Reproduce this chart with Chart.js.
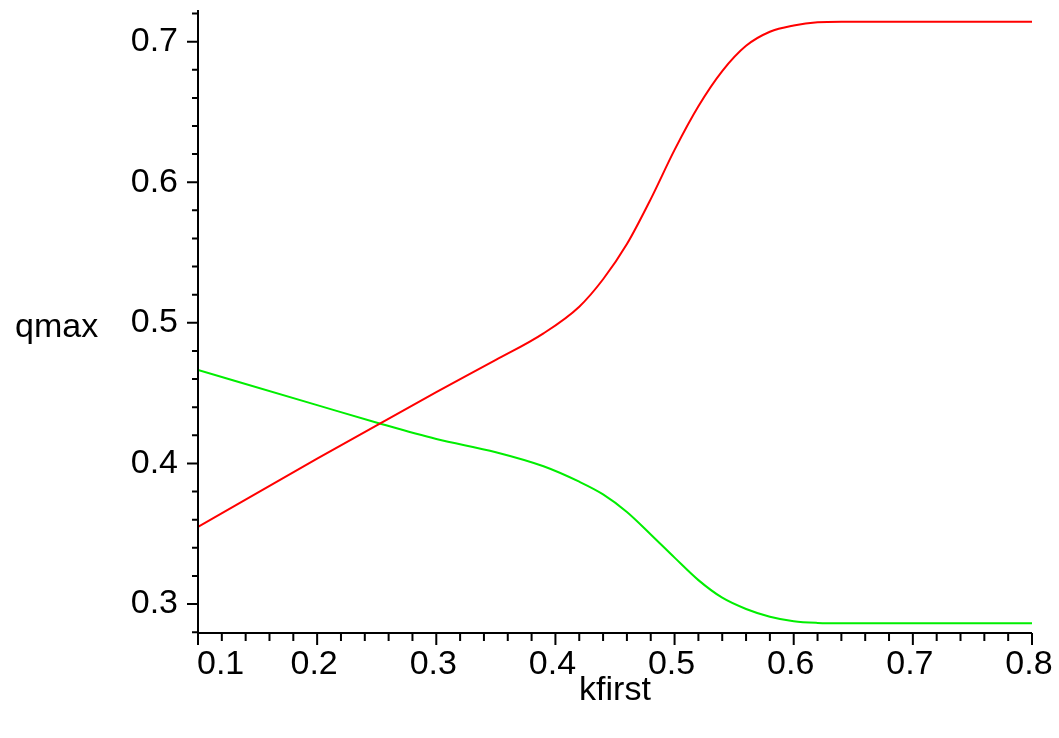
<!DOCTYPE html>
<html lang="en">
<head>
    <meta charset="UTF-8">
    <title>qmax vs kfirst</title>
    <script src="https://cdn.jsdelivr.net/npm/chart.js"></script>
    <style>
        body {
            margin: 0;
            background: #fff;
        }
        #wrap {
            width: 1059px;
            height: 738px;
            position: relative;
        }
    </style>
</head>
<body>
<div id="wrap"><canvas id="plot"></canvas></div>
<script>
    // values
    const redK = [0.1, 0.2, 0.3, 0.35, 0.39, 0.42, 0.44, 0.46, 0.48, 0.5, 0.52, 0.54,
        0.56, 0.58, 0.6, 0.62, 0.64, 0.8];
    const redQ = [0.3548, 0.4035, 0.4508, 0.4736, 0.4925, 0.5115, 0.531, 0.556, 0.588, 0.623, 0.654, 0.679,
        0.697, 0.707, 0.7115, 0.7138, 0.7142, 0.7142];

    const greenK = [0.1, 0.2, 0.251, 0.3, 0.35, 0.39, 0.42, 0.44, 0.46, 0.48, 0.5, 0.52,
        0.54, 0.56, 0.58, 0.6, 0.62, 0.64, 0.8];
    const greenQ = [0.4664, 0.4415, 0.4288, 0.4174, 0.408, 0.398, 0.387, 0.378, 0.3655, 0.3495, 0.333, 0.317,
        0.3045, 0.2965, 0.291, 0.2878, 0.2866, 0.2863, 0.2863];

    const xTickLabels = ['0.1', '0.2', '0.3', '0.4', '0.5', '0.6', '0.7', '0.8'];
    const yTickLabels = ['0.3', '0.4', '0.5', '0.6', '0.7'];

    const FONT = '34px "Liberation Sans", Arial, sans-serif';

    function toPoints(xs, ys) {
        return xs.map((x, i) => ({x: x, y: ys[i]}));
    }

    const axesPlugin = {
        id: 'mapleAxes',
        afterDraw(chart) {
            const ctx = chart.ctx;
            const area = chart.chartArea;
            const xs = chart.scales.x;
            const ys = chart.scales.y;
            ctx.save();
            ctx.strokeStyle = '#000';
            ctx.fillStyle = '#000';
            ctx.lineWidth = 2;

            // axis lines
            ctx.beginPath();
            ctx.moveTo(area.left, area.top);
            ctx.lineTo(area.left, area.bottom);
            ctx.lineTo(area.right, area.bottom);
            ctx.stroke();

            // y ticks every 0.02
            ctx.beginPath();
            for (let i = 14; i <= 36; i++) {
                const y = ys.getPixelForValue(i / 50);
                const len = i % 5 === 0 ? 11 : 6;
                ctx.moveTo(area.left - len, y);
                ctx.lineTo(area.left, y);
            }
            // x ticks every 0.02
            for (let i = 5; i <= 40; i++) {
                const x = xs.getPixelForValue(i / 50);
                const len = i % 5 === 0 ? 12 : 8;
                ctx.moveTo(x, area.bottom);
                ctx.lineTo(x, area.bottom + len);
            }
            ctx.stroke();

            ctx.font = FONT;
            ctx.textBaseline = 'middle';

            ctx.textAlign = 'right';
            yTickLabels.forEach(t => {
                ctx.fillText(t, area.left - 20, ys.getPixelForValue(parseFloat(t)));
            });

            xTickLabels.forEach((t, i) => {
                const x = xs.getPixelForValue(parseFloat(t));
                if (i === 0) {
                    ctx.textAlign = 'left';
                    ctx.fillText(t, x - 1, area.bottom + 32);
                } else {
                    ctx.textAlign = 'center';
                    ctx.fillText(t, x - 3, area.bottom + 32);
                }
            });

            ctx.textAlign = 'left';
            ctx.fillText('qmax', 15, 328);
            ctx.textAlign = 'center';
            ctx.fillText('kfirst', 615, 691);
            ctx.restore();
        }
    };

    new Chart(document.getElementById('plot'), {
        type: 'scatter',
        data: {
            datasets: [{
                label: 'red',
                data: toPoints(redK, redQ),
                showLine: true,
                borderColor: '#ff0000',
                borderWidth: 2,
                pointRadius: 0,
                cubicInterpolationMode: 'monotone'
            }, {
                label: 'green',
                data: toPoints(greenK, greenQ),
                showLine: true,
                borderColor: '#00ee00',
                borderWidth: 2,
                pointRadius: 0,
                cubicInterpolationMode: 'monotone'
            }]
        },
        options: {
            responsive: true,
            maintainAspectRatio: false,
            animation: false,
            layout: {
                padding: {left: 198, right: 27, top: 10, bottom: 105}
            },
            scales: {
                x: {type: 'linear', min: 0.1, max: 0.8, display: false},
                y: {type: 'linear', min: 0.2794, max: 0.7225, display: false}
            },
            plugins: {
                legend: {display: false},
                tooltip: {enabled: false}
            }
        },
        plugins: [axesPlugin]
    });
</script>
</body>
</html>
